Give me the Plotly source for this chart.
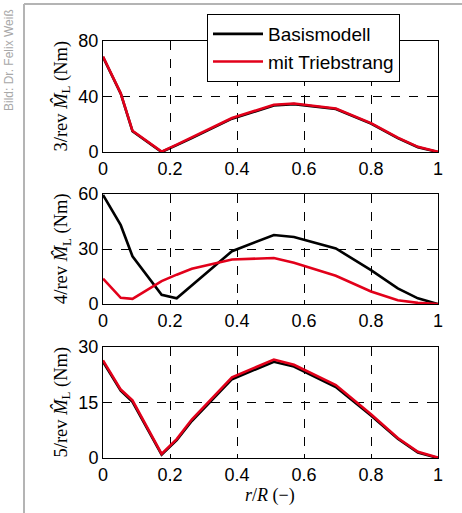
import plotly.graph_objects as go

# Radial stations r/R
r = [0, 0.053, 0.088, 0.175, 0.22, 0.265, 0.385, 0.51, 0.57, 0.695, 0.8, 0.88, 0.94, 1.0]

# 3/rev
m3_base = [68.5, 42, 15, 0, 5, 10, 24, 33.5, 34.5, 31, 20.5, 10, 3.5, 0]
m3_trieb = [68.8, 42.3, 15.3, 0.3, 5.3, 10.4, 24.5, 34.0, 35.0, 31.3, 20.8, 10.3, 3.7, 0.2]

# 4/rev
m4_base = [59.5, 43, 26, 5, 3.1, 10, 28.8, 37.6, 36.5, 30.3, 18.5, 8.5, 3.1, 0]
m4_trieb = [13.8, 3.4, 2.8, 12.5, 16.0, 19.2, 24.3, 25.1, 22.5, 15.4, 6.8, 2.0, 0.6, 0]

# 5/rev
m5_base = [26.0, 18.2, 15.2, 0.9, 4.8, 10.0, 21.3, 26.0, 24.7, 19.2, 11.5, 5.2, 1.5, 0]
m5_trieb = [26.4, 18.5, 15.6, 1.1, 5.1, 10.4, 21.8, 26.6, 25.2, 19.7, 11.8, 5.4, 1.7, 0.1]

x_ticks = [0, 0.2, 0.4, 0.6, 0.8, 1.0]
x_ticklabels = ["0", "0.2", "0.4", "0.6", "0.8", "1"]
y_ticks = [[0, 40, 80], [0, 30, 60], [0, 15, 30]]
y_ranges = [[0, 80], [0, 60], [0, 30]]
y_titles = ["3/rev <i>M\u0302</i><sub>L</sub> (Nm)",
            "4/rev <i>M\u0302</i><sub>L</sub> (Nm)",
            "5/rev <i>M\u0302</i><sub>L</sub> (Nm)"]
series_names = ["Basismodell", "mit Triebstrang"]

W, H = 462, 513
BLACK = "#000000"
RED = "#e2001a"

fig = go.Figure()

pairs = [(m3_base, m3_trieb), (m4_base, m4_trieb), (m5_base, m5_trieb)]
for i, (b, t) in enumerate(pairs):
    ax = "" if i == 0 else str(i + 1)
    fig.add_trace(go.Scatter(x=r, y=b, mode="lines", name=series_names[0],
                             line=dict(color=BLACK, width=2.6),
                             xaxis="x" + ax, yaxis="y" + ax, showlegend=(i == 0)))
    fig.add_trace(go.Scatter(x=r, y=t, mode="lines", name=series_names[1],
                             line=dict(color=RED, width=2.6),
                             xaxis="x" + ax, yaxis="y" + ax, showlegend=(i == 0)))

# panel pixel positions (top, bottom)
panels = [(41, 152), (194, 304), (347, 458)]
x0p, x1p = 103, 438
tick_font = dict(family="Liberation Sans, Arial, sans-serif", size=18, color="black")

layout = dict(
    width=W, height=H,
    margin=dict(l=0, r=0, t=0, b=0, autoexpand=False),
    paper_bgcolor="white", plot_bgcolor="white",
    showlegend=True,
    legend=dict(x=207 / W, y=1 - 14 / H, xanchor="left", yanchor="top",
                bgcolor="white", bordercolor="black", borderwidth=1,
                font=dict(family="Liberation Sans, Arial, sans-serif", size=19, color="black"),
                itemwidth=50, tracegroupgap=0),
)

for i, (pt, pb) in enumerate(panels):
    sfx = "" if i == 0 else str(i + 1)
    layout["xaxis" + sfx] = dict(
        domain=[x0p / W, x1p / W], range=[0, 1], anchor="y" + sfx,
        tickvals=x_ticks, ticktext=x_ticklabels, tickfont=tick_font,
        showgrid=True, gridcolor="black", griddash="dash", gridwidth=1,
        showline=True, linecolor="black", linewidth=1, mirror="ticks",
        ticks="inside", ticklen=4, tickcolor="black", zeroline=False,
        automargin=False,
    )
    layout["yaxis" + sfx] = dict(
        domain=[1 - pb / H, 1 - pt / H], range=y_ranges[i], anchor="x" + sfx,
        tickvals=y_ticks[i], tickfont=tick_font,
        showgrid=True, gridcolor="black", griddash="dash", gridwidth=1,
        showline=True, linecolor="black", linewidth=1, mirror="ticks",
        ticks="inside", ticklen=4, tickcolor="black", zeroline=False,
        automargin=False,
    )

fig.update_layout(**layout)

annotations = []
for i, (pt, pb) in enumerate(panels):
    annotations.append(dict(
        text=y_titles[i], x=62 / W, y=1 - ((pt + pb) / 2) / H,
        xref="paper", yref="paper", showarrow=False, textangle=-90,
        xanchor="center", yanchor="middle",
        font=dict(family="Liberation Serif, DejaVu Serif, serif", size=18.5, color="black"),
    ))
annotations.append(dict(
    text="<i>r</i>/<i>R</i> (\u2212)", x=270 / W, y=1 - 495 / H,
    xref="paper", yref="paper", showarrow=False,
    xanchor="center", yanchor="middle",
    font=dict(family="Liberation Serif, DejaVu Serif, serif", size=18, color="black"),
))
annotations.append(dict(
    text="Bild: Dr. Felix Weiß", x=9 / W, y=1 - 60 / H,
    xref="paper", yref="paper", showarrow=False, textangle=-90,
    xanchor="center", yanchor="middle",
    font=dict(family="Liberation Sans, Arial, sans-serif", size=12, color="#a8a8a8"),
))
fig.update_layout(annotations=annotations)

# grey frame
fig.add_shape(type="line", xref="paper", yref="paper",
              x0=24 / W, x1=24 / W, y0=0, y1=1 - 4 / H,
              line=dict(color="#b4b4b4", width=2))
fig.add_shape(type="line", xref="paper", yref="paper",
              x0=24 / W, x1=1, y0=1 - 4 / H, y1=1 - 4 / H,
              line=dict(color="#b4b4b4", width=2))

fig.write_html(
    "out.html",
    config={"displayModeBar": False},
    post_script="document.body.style.margin='0';document.body.style.padding='0';",
)
